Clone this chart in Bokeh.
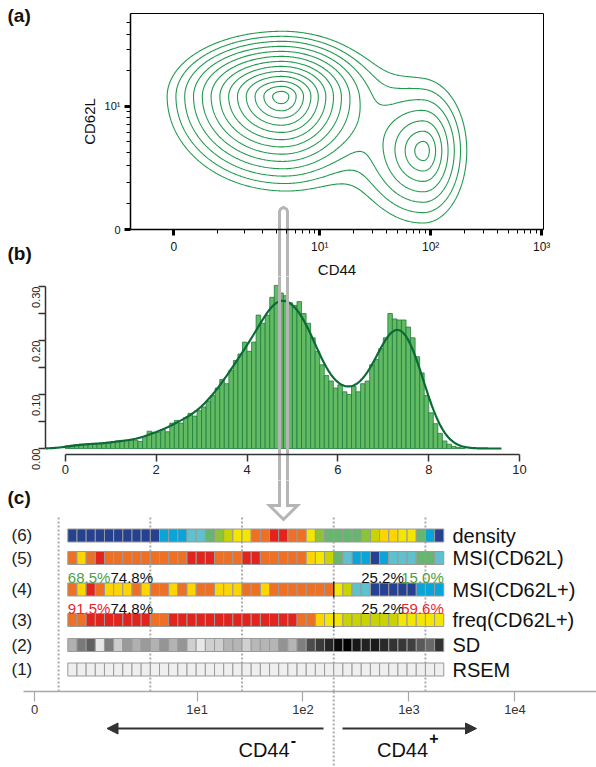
import numpy as np
from bokeh.plotting import figure
from bokeh.layouts import column
from bokeh.models import (Range1d, FixedTicker, CustomJSTickFormatter, PrintfTickFormatter,
                          Arrow, NormalHead, ColumnDataSource)
from bokeh.core.properties import value
from bokeh.embed import file_html
from bokeh.resources import INLINE

FONT = "Liberation Sans"
LN10 = np.log(10.0)

# ---------------- data ----------------
# (a) two cell populations in biexponential display units (CD44, CD62L)
pop_cx = [0.97, 2.25]
pop_cy = [1.10, 0.65]
pop_weight = [1.0, 0.134]
pop_spread_left = [0.240, 0.25]
pop_spread_right = [0.200, 0.170]
pop_spread_down = [0.180, 0.26]
pop_spread_up = [0.125, 0.25]
contour_step = 0.33
contour_count = 13

# (b) CD44 histogram, bins of 0.1 starting at 0
hist_bin = 0.1
hist_density = [
    0.005, 0.006, 0.007, 0.008, 0.008, 0.009, 0.009, 0.008, 0.009, 0.010,
    0.012, 0.014, 0.015, 0.015, 0.016, 0.015, 0.013, 0.022, 0.032, 0.030,
    0.030, 0.035, 0.031, 0.047, 0.052, 0.047, 0.057, 0.065, 0.060, 0.070,
    0.077, 0.088, 0.098, 0.112, 0.128, 0.120, 0.145, 0.163, 0.175, 0.197,
    0.180, 0.197, 0.247, 0.232, 0.247, 0.280, 0.302, 0.288, 0.283, 0.270,
    0.265, 0.272, 0.250, 0.232, 0.205, 0.180, 0.155, 0.135, 0.125, 0.112,
    0.118, 0.105, 0.100, 0.115, 0.105, 0.120, 0.125, 0.155, 0.165, 0.185,
    0.205, 0.250, 0.240, 0.238, 0.238, 0.225, 0.205, 0.170, 0.140, 0.098,
    0.066, 0.046, 0.028, 0.014, 0.008, 0.004, 0.002, 0.001,
]
hist_y_ticks = [0.0, 0.1, 0.2, 0.3]
hist_x_ticks = [0, 2, 4, 6, 8, 10]

# (c) binned summary rows (41 bins along CD44)
palette = ["#26418f", "#0aa5d8", "#5fc0ce", "#67b66f", "#8dc33b",
           "#c8d300", "#f4e600", "#fed500", "#ee7024", "#e3231d"]
density_level = [0] * 10 + [1, 1, 1, 2, 2, 3, 4, 5, 6, 6, 8, 8, 9, 9, 8, 8, 6, 4,
                            3, 3, 3, 3, 4, 5, 7, 7, 6, 6, 3, 1, 0]
msi_cd62l_level = [8, 7, 8, 9, 8, 8, 8, 8, 8, 8, 8, 8, 8, 9, 9, 9, 8, 8, 8, 9, 9,
                   8, 8, 8, 8, 8, 7, 6, 5, 3, 2, 1, 1, 0, 1, 2, 2, 2, 3, 3, 2]
msi_cd62l_pos_level = [8, 7, 9, 8, 7, 7, 7, 8, 7, 8, 8, 7, 8, 7, 8, 8, 7, 7, 7, 8, 8,
                       7, 8, 8, 8, 8, 8, 8, 8, 6, 5, 2, 2, 0, 0, 0, 0, 0, 1, 1, 1]
freq_cd62l_pos_level = [8, 8, 9, 9, 9, 9, 9, 9, 9, 8, 8, 9, 9, 9, 9, 9, 9, 9, 9, 9, 9,
                        9, 9, 9, 9, 8, 8, 7, 6, 6, 5, 5, 5, 5, 5, 5, 6, 6, 6, 6, 6]
sd_gray = [176, 122, 96, 230, 125, 204, 154, 176, 154, 178, 149, 179, 149, 207, 232,
           207, 207, 181, 181, 208, 184, 181, 181, 147, 181, 127, 76, 58, 38, 10, 0,
           25, 34, 26, 42, 51, 56, 64, 90, 106, 51]
rsem_gray = [239] * 41
row_names = ["density", "MSI(CD62L)", "MSI(CD62L+)", "freq(CD62L+)", "SD", "RSEM"]
row_numbers = ["(6)", "(5)", "(4)", "(3)", "(2)", "(1)"]
cd44_tick_values = [0, 10, 100, 1000, 10000]
cd44_tick_labels = ["0", "1e1", "1e2", "1e3", "1e4"]
gate_bins = [-1, 9, 19, 29, 39]
left_pct = [("68.5%", "74.8%"), ("91.5%", "74.8%")]
right_pct = [("25.2%", "15.0%"), ("25.2%", "59.6%")]


def biex(v, w):
    return np.arcsinh(np.asarray(v, dtype=float) / (2.0 * w)) / LN10


def px_map(d0, d1, p0, p1):
    return lambda p: d0 + (np.asarray(p, dtype=float) - p0) / (p1 - p0) * (d1 - d0)


NEAREST = ("let b = 0; for (let i = 0; i < pos.length; i++) {"
           " if (Math.abs(pos[i] - tick) < Math.abs(pos[b] - tick)) b = i; }"
           " return labels[b];")

# outline of the grey pointer that runs from (a) down into (c), page pixels
arrow_px = [(279, 211), (280, 208.5), (283, 207), (286, 208.5), (287, 211),
            (287, 505), (297, 505), (283, 519), (269, 505), (279, 505)]
ARROW_COLOR = "#b5b5b5"


def add_pointer(p, fx, fy):
    p.patch(x=[float(fx(a)) for a, _ in arrow_px], y=[float(fy(b)) for _, b in arrow_px],
            fill_alpha=0.0, line_color=ARROW_COLOR, line_width=3, line_join="miter")


def panel_label(p, x, y, text):
    p.text(x=[x], y=[y], text=[text], text_font=value(FONT), text_font_size="19px",
           text_font_style="bold", text_baseline="middle", text_color="#111111")


def make_fig(h, xr, yr):
    p = figure(width=596, height=h, x_range=Range1d(*xr), y_range=Range1d(*yr),
               output_backend="svg", toolbar_location=None,
               min_border_left=0, min_border_right=0, min_border_top=0, min_border_bottom=0)
    p.grid.visible = False
    p.outline_line_color = None
    return p


# ---------------- (a) contour plot ----------------
# display units: 111 px per decade along CD44, 121 px per decade along CD62L
AX0, AX1, AY0, AY1 = -0.39, 3.331, 0.0, 1.785
fax = px_map(AX0, AX1, 130, 543)
fay = px_map(AY0, AY1, 229, 13)
pa = make_fig(276, (float(fax(0)), float(fax(596))), (float(fay(276)), float(fay(0))))

gx = np.linspace(AX0, AX1, 440)
gy = np.linspace(AY0, AY1, 260)
GX, GY = np.meshgrid(gx, gy)
Z = np.zeros_like(GX)
for cx, cy, w, sl, sr, sd, su in zip(pop_cx, pop_cy, pop_weight, pop_spread_left,
                                     pop_spread_right, pop_spread_down, pop_spread_up):
    dx = GX - cx
    dy = GY - cy
    sx = np.where(dx < 0, sl, sr)
    sy = np.where(dy < 0, sd, su)
    Z += w * np.exp(-np.hypot(dx / sx, dy / sy))
levels = np.exp(-contour_step * np.arange(contour_count, 0, -1))
pa.contour(gx, gy, Z, levels=levels, line_color="#229a4e", line_width=1.1, fill_color=None)

# frame box (top and right edges; left and bottom are the axes)
pa.segment(x0=[AX0, AX1], y0=[AY1, AY0], x1=[AX1, AX1], y1=[AY1, AY1],
           line_color="black", line_width=1)

ax_major = biex([0, 10, 100, 1000], 0.485)
ax_minor = biex(list(range(1, 10)) + list(range(20, 100, 10)) + list(range(200, 1000, 100)), 0.485)
ay_major = biex([0, 10], 0.97)
ay_minor = biex(list(range(1, 10)) + [20, 30, 40, 50], 0.97)
pa.xaxis.ticker = FixedTicker(ticks=list(ax_major), minor_ticks=list(ax_minor))
pa.yaxis.ticker = FixedTicker(ticks=list(ay_major), minor_ticks=list(ay_minor))
pa.xaxis.formatter = CustomJSTickFormatter(
    args=dict(pos=list(ax_major), labels=["0", "10\u00b9", "10\u00b2", "10\u00b3"]), code=NEAREST)
pa.yaxis.formatter = CustomJSTickFormatter(
    args=dict(pos=list(ay_major), labels=["0", "10\u00b9"]), code=NEAREST)
pa.xaxis.fixed_location = AY0
pa.yaxis.fixed_location = AX0
pa.xaxis.bounds = (AX0, AX1)
pa.yaxis.bounds = (AY0, AY1)
for ax in (pa.xaxis[0], pa.yaxis[0]):
    ax.axis_line_width = 1.5
    ax.major_tick_out = 6
    ax.major_tick_in = 0
    ax.major_tick_line_width = 3
    ax.minor_tick_out = 4
    ax.minor_tick_in = 0
    ax.minor_tick_line_width = 1
    ax.major_label_text_font = FONT
    ax.major_label_text_font_size = "12px"
    ax.major_label_text_color = "#111111"
    ax.major_label_standoff = 4
    ax.axis_label_text_font = FONT
    ax.axis_label_text_font_size = "15px"
    ax.axis_label_text_font_style = "normal"
    ax.axis_label_text_color = "#111111"
    ax.axis_label_standoff = 4
pa.yaxis.major_label_text_font_size = "11px"
pa.xaxis.axis_label = "CD44"
pa.yaxis.axis_label = "CD62L"
panel_label(pa, float(fax(7)), float(fay(15)), "(a)")
panel_label(pa, float(fax(7)), float(fay(253)), "(b)")
add_pointer(pa, fax, fay)

# ---------------- (b) histogram ----------------
fbx = px_map(0.0, 10.0, 64.8, 519.1)
fby = px_map(0.0, 0.3, 448.0, 286.0)
pb = make_fig(204, (float(fbx(0)), float(fbx(596))), (float(fby(480)), float(fby(276))))
h = np.array(hist_density)
edges = np.arange(len(h) + 1) * hist_bin
pb.quad(left=edges[:-1], right=edges[1:], bottom=0, top=h,
        fill_color="#62ba63", line_color="#1f7d3c", line_width=0.8)
centers = edges[:-1] + hist_bin / 2
xs = np.linspace(-0.43, 9.6, 500)
bw = 0.26
smooth = (h[None, :] * np.exp(-0.5 * ((xs[:, None] - centers[None, :]) / bw) ** 2)).sum(axis=1)
smooth *= hist_bin / (bw * np.sqrt(2 * np.pi))
pb.line(xs, smooth, line_color="#0b6a35", line_width=2.2)

pb.xaxis.ticker = FixedTicker(ticks=hist_x_ticks, minor_ticks=[])
pb.yaxis.ticker = FixedTicker(ticks=hist_y_ticks, minor_ticks=[0.05, 0.15, 0.25])
pb.yaxis.formatter = PrintfTickFormatter(format="%.2f")
pb.xaxis.bounds = (0, 10)
pb.yaxis.bounds = (0, 0.3)
pb.xaxis.fixed_location = float(fby(454))
pb.yaxis.fixed_location = float(fbx(45))
pb.yaxis.major_label_orientation = np.pi / 2
for ax in (pb.xaxis[0], pb.yaxis[0]):
    ax.axis_line_color = "#333333"
    ax.axis_line_width = 1.5
    ax.major_tick_line_color = "#333333"
    ax.minor_tick_line_color = "#333333"
    ax.major_tick_line_width = 1.5
    ax.minor_tick_line_width = 1.5
    ax.major_tick_out = 7
    ax.major_tick_in = 0
    ax.minor_tick_out = 7
    ax.minor_tick_in = 0
    ax.major_label_text_font = FONT
    ax.major_label_text_color = "#222222"
    ax.major_label_standoff = 3
pb.xaxis.major_label_text_font_size = "13px"
pb.yaxis.major_label_text_font_size = "11px"
add_pointer(pb, fbx, fby)

# ---------------- (c) binned rows ----------------
# CD44 axis in decades (106 px per decade); y in pixels above the axis
fcx = px_map(1.0, 2.0, 196.5, 302.5)
fcy = px_map(0.0, 100.0, 691.0, 591.0)
pc = make_fig(287, (float(fcx(0)), float(fcx(596))), (float(fcy(767)), float(fcy(480))))

cd44_ticks = [float(t) for t in biex(cd44_tick_values, 0.2945) - 0.531]
n_bins = len(density_level)
bin_w = float(fcx(9.17) - fcx(0))
bin0 = float(fcx(67.3))
bin_centers = bin0 + bin_w * (np.arange(n_bins) + 0.5)
gates = [bin0 + bin_w * k for k in gate_bins]

dot = "#ababab"
pc.segment(x0=gates, y0=0, x1=gates, y1=float(fcy(516)), line_color=dot, line_width=2,
           line_dash="2 2")
pc.segment(x0=[gates[3]], y0=[0], x1=[gates[3]], y1=[float(fcy(775))], line_color=dot,
           line_width=2, line_dash="2 2")

row_y = [float(fcy(v)) for v in (535, 557.5, 589, 619.5, 644.5, 669)]
row_colors = [
    [palette[i] for i in density_level],
    [palette[i] for i in msi_cd62l_level],
    [palette[i] for i in msi_cd62l_pos_level],
    [palette[i] for i in freq_cd62l_pos_level],
    ["#%02x%02x%02x" % (g, g, g) for g in sd_gray],
    ["#%02x%02x%02x" % (g, g, g) for g in rsem_gray],
]
cx, cy, cc = [], [], []
for yv, cols in zip(row_y, row_colors):
    cx += list(bin_centers)
    cy += [yv] * n_bins
    cc += cols
pc.rect(x="x", y="y", width=bin_w, height=13, fill_color="c", line_color="#9a9a9a",
        line_width=1, source=ColumnDataSource(dict(x=cx, y=cy, c=cc)))

# CD44 gate marks on rows (4) and (3)
pc.segment(x0=[gates[3]] * 2, y0=[row_y[2] - 8, row_y[3] - 8], x1=[gates[3]] * 2,
           y1=[row_y[2] + 8, row_y[3] + 8], line_color="#222222", line_width=1.5)

pc.text(x=[float(fcx(452))] * 6, y=row_y, text=row_names, text_font=value(FONT),
        text_font_size="20px", text_baseline="middle", text_color="#111111")
pc.text(x=[float(fcx(11))] * 6, y=row_y, text=row_numbers, text_font=value(FONT),
        text_font_size="17px", text_baseline="middle", text_color="#222222")

pct_green, pct_red = "#4e9e42", "#e8262b"
pct_mid = [float(fcy(576.5)), float(fcy(607.5))]
for (a, b), (c, d), ym, col in zip(left_pct, right_pct, pct_mid, [pct_green, pct_red]):
    common = dict(text_font=value(FONT), text_font_size="15px", text_baseline="middle")
    pc.text(x=[bin0], y=[ym], text=[a], text_color=col, **common)
    pc.text(x=[float(fcx(110))], y=[ym], text=[b], text_color="#111111", **common)
    pc.text(x=[float(fcx(403.3))], y=[ym], text=[c], text_color="#111111", text_align="right", **common)
    pc.text(x=[bin0 + bin_w * n_bins], y=[ym], text=[d], text_color=col, text_align="right", **common)

pc.xaxis.ticker = FixedTicker(ticks=cd44_ticks, minor_ticks=[])
pc.xaxis.formatter = CustomJSTickFormatter(args=dict(pos=cd44_ticks, labels=cd44_tick_labels), code=NEAREST)
pc.xaxis.fixed_location = 0.0
pc.xaxis.bounds = (float(fcx(23)), float(fcx(596)))
pc.yaxis.visible = False
pc.xaxis.axis_line_color = "#a8a8a8"
pc.xaxis.axis_line_width = 1.5
pc.xaxis.major_tick_line_color = "#a8a8a8"
pc.xaxis.major_tick_line_width = 1.2
pc.xaxis.major_tick_out = 10
pc.xaxis.major_tick_in = 0
pc.xaxis.major_label_standoff = 3
pc.xaxis.major_label_text_font = FONT
pc.xaxis.major_label_text_font_size = "13px"
pc.xaxis.major_label_text_color = "#333333"

head = dict(size=11, fill_color="#333333", line_color="#333333")
pc.add_layout(Arrow(end=NormalHead(**head), x_start=float(fcx(323)), y_start=float(fcy(728)),
                    x_end=float(fcx(106.5)), y_end=float(fcy(728)), line_color="#333333", line_width=2))
pc.add_layout(Arrow(end=NormalHead(**head), x_start=float(fcx(342)), y_start=float(fcy(728)),
                    x_end=float(fcx(476)), y_end=float(fcy(728)), line_color="#333333", line_width=2))
pc.text(x=[float(fcx(263.5)), float(fcx(402))], y=[float(fcy(749))] * 2, text=["CD44", "CD44"],
        text_font=value(FONT), text_font_size="20px", text_align="center",
        text_baseline="middle", text_color="#111111")
pc.text(x=[float(fcx(293)), float(fcx(433.5))], y=[float(fcy(739)), float(fcy(737))],
        text=["-", "+"], text_font=value(FONT), text_font_size="16px", text_font_style="bold",
        text_align="center", text_baseline="middle", text_color="#111111")
panel_label(pc, float(fcx(7)), float(fcy(497)), "(c)")
add_pointer(pc, fcx, fcy)

layout = column(pa, pb, pc, spacing=0)
open("out.html", "w").write(file_html(layout, INLINE))
